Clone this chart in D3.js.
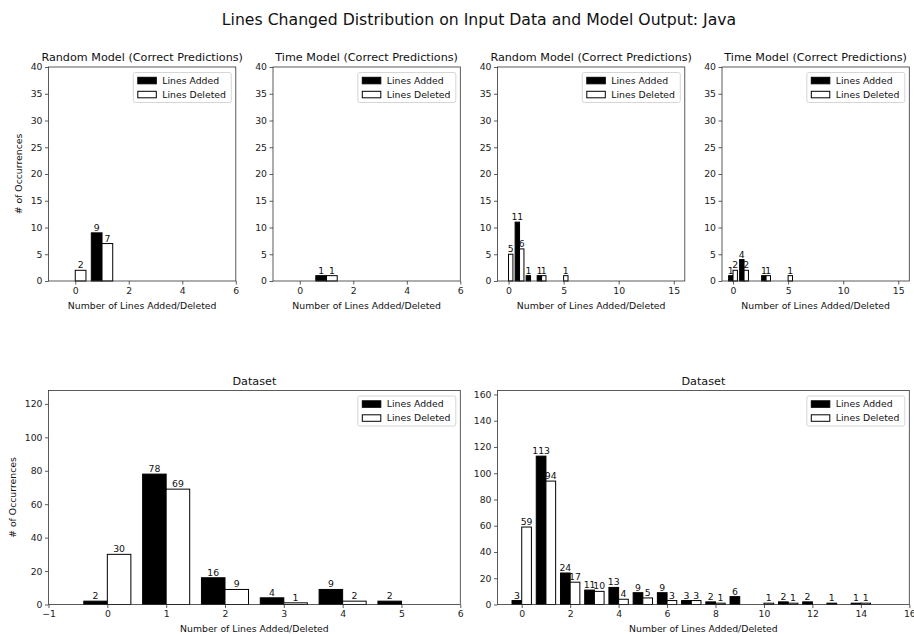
<!DOCTYPE html>
<html>
<head>
<meta charset="utf-8">
<script src="https://cdn.jsdelivr.net/npm/d3@7"></script>
<style>
  body { margin: 0; background: #fff; }
  svg { font-family: "DejaVu Sans", sans-serif; }
  .tick text { fill: #222; }
</style>
</head>
<body>
<svg id="chart" width="914" height="634"></svg>
<script>
// counts indexed by number of lines (index 0 = 0 lines, 1 = 1 line, ...), 0 = no bar
const randomAdded = [0, 9];
const randomDeleted = [2, 7];
const timeAdded = [0, 1];
const timeDeleted = [0, 1];
const random2Added = [0, 11, 1, 1];
const random2Deleted = [5, 6, 0, 1, 0, 1];
const time2Added = [1, 4, 0, 1];
const time2Deleted = [2, 2, 0, 1, 0, 1];
const datasetAdded = [2, 78, 16, 4, 9, 2];
const datasetDeleted = [30, 69, 9, 1, 2];
const dataset2Added = [3, 113, 24, 11, 13, 9, 9, 3, 2, 6, 0, 2, 2, 1, 1];
const dataset2Deleted = [59, 94, 17, 10, 4, 5, 3, 3, 1, 0, 1, 1, 0, 0, 1];

const ticksShort = [0, 2, 4, 6];
const ticksLong = [0, 5, 10, 15];
const ticksDatasetX = [-1, 0, 1, 2, 3, 4, 5, 6];
const ticksDataset2X = [0, 2, 4, 6, 8, 10, 12, 14, 16];
const ticksTopY = [0, 5, 10, 15, 20, 25, 30, 35, 40];
const ticksDatasetY = [0, 20, 40, 60, 80, 100, 120];
const ticksDataset2Y = [0, 20, 40, 60, 80, 100, 120, 140, 160];

const legendNames = ['Lines Added', 'Lines Deleted'];
const figTitle = 'Lines Changed Distribution on Input Data and Model Output: Java';
const xLabel = 'Number of Lines Added/Deleted';
const yLabel = '# of Occurrences';

const svg = d3.select('#chart');
const fs = 9.3;
const barW = 0.4;

// grid layout
const colL = 48.5, colW = 187.3, colG = 37.2;
const topRow = {y: 67, h: 214};
const botRow = {y: 390.5, h: 214};
function colX(i){ return colL + i * (colW + colG); }

svg.append('text')
    .attr('x', 479).attr('y', 25)
    .attr('text-anchor', 'middle')
    .style('font-size', '15.7px')
    .style('fill', '#111')
    .text(figTitle);

function drawPanel(p)
{
    const g = svg.append('g').attr('transform', 'translate(' + p.x + ',' + p.y + ')');

    const x = d3.scaleLinear().domain(p.xDomain).range([0, p.w]);
    const y = d3.scaleLinear().domain(p.yDomain).range([p.h, 0]);

    const bars = [];
    p.added.forEach(function(v, i){
        if(v > 0) bars.push({pos: i - barW, v: v, added: true});
    });
    p.deleted.forEach(function(v, i){
        if(v > 0) bars.push({pos: i, v: v, added: false});
    });

    g.selectAll('rect.bar')
        .data(bars)
        .enter()
        .append('rect')
        .attr('class', 'bar')
        .attr('x', d => x(d.pos))
        .attr('y', d => y(d.v))
        .attr('width', d => x(d.pos + barW) - x(d.pos))
        .attr('height', d => y(0) - y(d.v))
        .style('fill', d => d.added ? '#000' : '#fff')
        .style('stroke', '#000')
        .style('stroke-width', 1);

    g.selectAll('text.lbl')
        .data(bars)
        .enter()
        .append('text')
        .attr('class', 'lbl')
        .attr('x', d => x(d.pos + barW / 2))
        .attr('y', d => y(d.v) - 2)
        .attr('text-anchor', 'middle')
        .style('font-size', fs + 'px')
        .style('fill', '#111')
        .text(d => d.v);

    const xAxis = g.append('g')
        .attr('transform', 'translate(0,' + p.h + ')')
        .call(d3.axisBottom(x).tickValues(p.xTicks).tickSize(3.5).tickPadding(2.5)
            .tickFormat(d => d < 0 ? '\u2212' + Math.abs(d) : d));
    const yAxis = g.append('g')
        .call(d3.axisLeft(y).tickValues(p.yTicks).tickSize(3.5).tickPadding(2.5));

    [xAxis, yAxis].forEach(function(a){
        a.select('.domain').remove();
        a.selectAll('.tick line').style('stroke', '#333').style('stroke-width', 0.8);
        a.selectAll('.tick text').style('font-size', fs + 'px').style('font-family', '"DejaVu Sans", sans-serif');
    });

    // frame
    g.append('rect')
        .attr('width', p.w).attr('height', p.h)
        .style('fill', 'none')
        .style('stroke', '#333')
        .style('stroke-width', 0.8);

    g.append('text')
        .attr('x', p.w / 2).attr('y', -6)
        .attr('text-anchor', 'middle')
        .style('font-size', '11.2px')
        .style('fill', '#111')
        .text(p.title);

    g.append('text')
        .attr('x', p.w / 2).attr('y', p.h + 27.5)
        .attr('text-anchor', 'middle')
        .style('font-size', fs + 'px')
        .style('fill', '#111')
        .text(xLabel);

    if(p.yLabel)
    {
        g.append('text')
            .attr('transform', 'translate(' + p.yLabelX + ',' + (p.h / 2) + ') rotate(-90)')
            .attr('text-anchor', 'middle')
            .style('font-size', fs + 'px')
            .style('fill', '#111')
            .text(yLabel);
    }

    // legend
    const lw = 98, lh = 30;
    const lg = g.append('g').attr('transform', 'translate(' + (p.w - 4.5 - lw) + ',5.5)');
    lg.append('rect')
        .attr('width', lw).attr('height', lh)
        .attr('rx', 2)
        .style('fill', '#fff')
        .style('stroke', '#ccc')
        .style('stroke-width', 0.8);
    legendNames.forEach(function(name, i){
        const cy = 8 + i * 14;
        lg.append('rect')
            .attr('x', 4.5).attr('y', cy - 3.2)
            .attr('width', 18.5).attr('height', 6.5)
            .style('fill', i == 0 ? '#000' : '#fff')
            .style('stroke', '#000')
            .style('stroke-width', 1);
        lg.append('text')
            .attr('x', 29).attr('y', cy + 3.3)
            .style('font-size', fs + 'px')
            .style('fill', '#111')
            .text(name);
    });
}

const panels = [
    {title: 'Random Model (Correct Predictions)', added: randomAdded, deleted: randomDeleted,
     x: colX(0), y: topRow.y, w: colW, h: topRow.h, xDomain: [-1, 6], yDomain: [0, 40],
     xTicks: ticksShort, yTicks: ticksTopY, yLabel: true, yLabelX: -27},
    {title: 'Time Model (Correct Predictions)', added: timeAdded, deleted: timeDeleted,
     x: colX(1), y: topRow.y, w: colW, h: topRow.h, xDomain: [-1, 6], yDomain: [0, 40],
     xTicks: ticksShort, yTicks: ticksTopY},
    {title: 'Random Model (Correct Predictions)', added: random2Added, deleted: random2Deleted,
     x: colX(2), y: topRow.y, w: colW, h: topRow.h, xDomain: [-1, 16], yDomain: [0, 40],
     xTicks: ticksLong, yTicks: ticksTopY},
    {title: 'Time Model (Correct Predictions)', added: time2Added, deleted: time2Deleted,
     x: colX(3), y: topRow.y, w: colW, h: topRow.h, xDomain: [-1, 16], yDomain: [0, 40],
     xTicks: ticksLong, yTicks: ticksTopY},
    {title: 'Dataset', added: datasetAdded, deleted: datasetDeleted,
     x: colX(0), y: botRow.y, w: 2 * colW + colG, h: botRow.h, xDomain: [-1, 6], yDomain: [0, 128],
     xTicks: ticksDatasetX, yTicks: ticksDatasetY, yLabel: true, yLabelX: -33},
    {title: 'Dataset', added: dataset2Added, deleted: dataset2Deleted,
     x: colX(2), y: botRow.y, w: 2 * colW + colG, h: botRow.h, xDomain: [-1, 16], yDomain: [0, 163],
     xTicks: ticksDataset2X, yTicks: ticksDataset2Y}
];

panels.forEach(drawPanel);
</script>
</body>
</html>
